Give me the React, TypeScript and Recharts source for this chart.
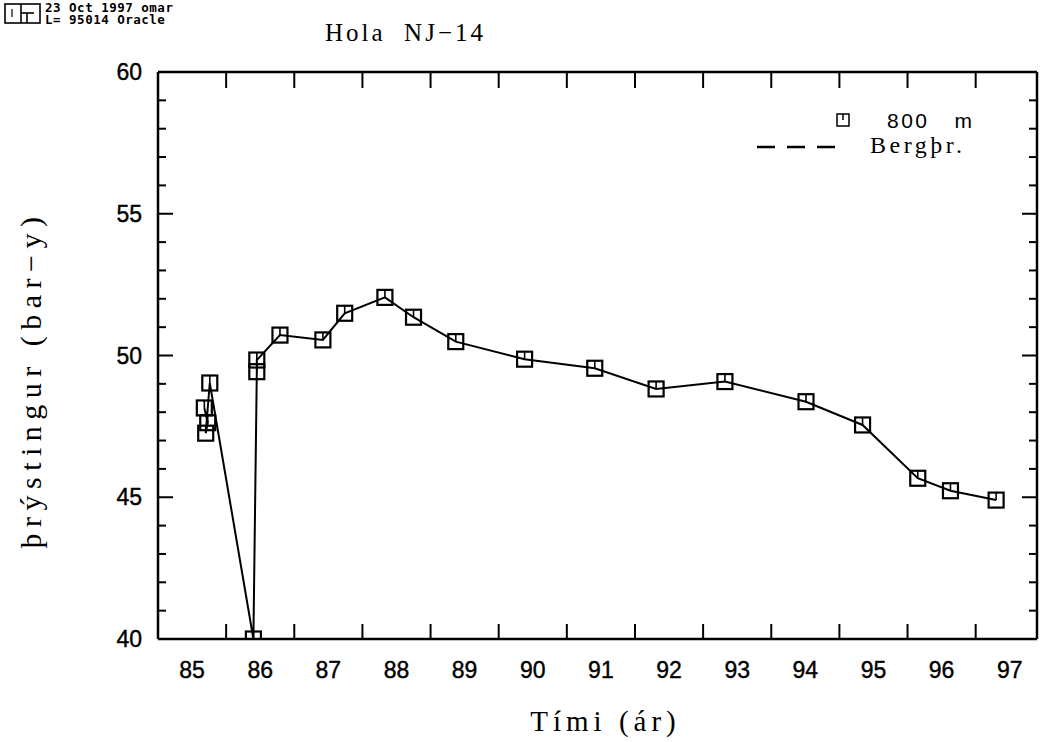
import React from "react";
import { LineChart, Line, XAxis, YAxis, Legend } from "recharts";

// Hola NJ-14, þrýstingur á 800 m
const times = [85.68, 85.73, 85.7, 85.76, 86.4, 86.45, 86.45, 86.79, 87.42, 87.74, 88.33, 88.75, 89.37, 90.38, 91.41, 92.31, 93.32, 94.51, 95.34, 96.15, 96.63, 97.3];
const pressure = [48.15, 47.63, 47.26, 49.03, 40.0, 49.43, 49.84, 50.72, 50.55, 51.49, 52.05, 51.35, 50.49, 49.87, 49.55, 48.82, 49.08, 48.37, 47.55, 45.67, 45.23, 44.9];

const yearLabels = ["85", "86", "87", "88", "89", "90", "91", "92", "93", "94", "95", "96", "97"];
const yearTicks = [86, 87, 88, 89, 90, 91, 92, 93, 94, 95, 96, 97];
const yTicks = [40, 41, 42, 43, 44, 45, 46, 47, 48, 49, 50, 51, 52, 53, 54, 55, 56, 57, 58, 59, 60];
const yLabels = [40, 45, 50, 55, 60];

const legendItems = [
  { name: "800 m", kind: "marker" },
  { name: "Bergþr.", kind: "dash" },
];

const data = times.map((t, i) => ({ t, p: pressure[i] }));
// labels sit in the middle of each year
const labelPos = yearLabels.map((l) => Number(l) + 0.5);
const bottomTicks = [...yearTicks, ...labelPos].sort((a, b) => a - b);

const sans = "'Liberation Sans', Arial, sans-serif";
const serif = "'Liberation Serif', 'Times New Roman', serif";

const BottomTick = (props: any) => {
  const { x, y, payload } = props;
  const v = payload.value;
  if (Number.isInteger(v)) {
    return <line x1={x} x2={x} y1={y} y2={y - 15} stroke="#000" strokeWidth={2} />;
  }
  return (
    <text x={x} y={y + 39} textAnchor="middle" fontFamily={sans} fontSize={23} fill="#000" stroke="#000" strokeWidth={0.4}>
      {Math.floor(v)}
    </text>
  );
};

const TopTick = (props: any) => {
  const { x, y } = props;
  return <line x1={x} x2={x} y1={y} y2={y + 16} stroke="#000" strokeWidth={2} />;
};

const LeftTick = (props: any) => {
  const { x, y, payload } = props;
  const major = yLabels.includes(payload.value);
  return (
    <g>
      <line x1={x} x2={x + (major ? 15 : 8)} y1={y} y2={y} stroke="#000" strokeWidth={2} />
      {major && (
        <text x={x - 16} y={y} textAnchor="end" dominantBaseline="central" fontFamily={sans} fontSize={23} fill="#000" stroke="#000" strokeWidth={0.4}>
          {payload.value}
        </text>
      )}
    </g>
  );
};

const RightTick = (props: any) => {
  const { x, y, payload } = props;
  const major = yLabels.includes(payload.value);
  return <line x1={x} x2={x - (major ? 15 : 8)} y1={y} y2={y} stroke="#000" strokeWidth={2} />;
};

const SquareDot = (props: any) => {
  const { cx, cy } = props;
  if (cx == null || cy == null) return null;
  return (
    <g>
      <rect x={cx - 7.5} y={cy - 7.5} width={15} height={15} fill="none" stroke="#000" strokeWidth={2.2} />
      <line x1={cx} x2={cx} y1={cy - 7.5} y2={cy} stroke="#000" strokeWidth={1.6} />
    </g>
  );
};

const LegendBox = () => (
  <svg width={240} height={56}>
    {legendItems.map((item) =>
      item.kind === "marker" ? (
        <g key={item.name}>
          <rect x={87} y={9} width={12} height={12} fill="none" stroke="#000" strokeWidth={1.5} />
          <line x1={93} x2={93} y1={9} y2={15} stroke="#000" strokeWidth={1.5} />
          <text x={137} y={23} fontFamily={sans} fontSize={21} letterSpacing={2.5} fill="#000">
            {item.name.replace(" ", "\u00a0\u00a0\u00a0")}
          </text>
        </g>
      ) : (
        <g key={item.name}>
          <line x1={7} x2={85} y1={42} y2={42} stroke="#000" strokeWidth={2.5} strokeDasharray="18 12" />
          <text x={120} y={48} fontFamily={serif} fontSize={24} letterSpacing={3.5} fill="#000">
            {item.name}
          </text>
        </g>
      )
    )}
  </svg>
);

const Logo = () => (
  <svg width={40} height={24} style={{ position: "absolute", left: 3, top: 2 }}>
    <rect x={2} y={2} width={35} height={19} fill="none" stroke="#000" strokeWidth={1.6} />
    <line x1={18} x2={18} y1={2} y2={21} stroke="#000" strokeWidth={1.6} />
    <line x1={9} x2={9} y1={7} y2={15} stroke="#000" strokeWidth={1.2} />
    <line x1={18} x2={31} y1={11} y2={11} stroke="#000" strokeWidth={1.6} />
    <line x1={24} x2={24} y1={11} y2={21} stroke="#000" strokeWidth={1.6} />
  </svg>
);

export default function App() {
  return (
    <div style={{ position: "absolute", left: 0, top: 0, width: 1040, height: 742, background: "#fff" }}>
      <Logo />
      <div style={{ position: "absolute", left: 45, top: 2, fontFamily: "'DejaVu Sans Mono', monospace", fontWeight: "bold", fontSize: 12.5, letterSpacing: 0.5, lineHeight: "11.5px", whiteSpace: "pre" }}>
        {"23 Oct 1997 omar\nL= 95014 Oracle"}
      </div>
      <div style={{ position: "absolute", left: 325, top: 19, fontFamily: serif, fontSize: 25, letterSpacing: 3, whiteSpace: "pre" }}>
        {"Hola  NJ\u221214"}
      </div>
      <LineChart width={1040} height={742} data={data} margin={{ top: 42, right: 0, left: 0, bottom: 0 }}>
        <XAxis
          xAxisId="top"
          orientation="top"
          type="number"
          dataKey="t"
          domain={[85, 97.9]}
          allowDataOverflow
          ticks={yearTicks}
          interval={0}
          height={30}
          tickSize={0}
          tickMargin={0}
          tick={<TopTick />}
          axisLine={{ stroke: "#000", strokeWidth: 2.5 }}
          tickLine={false}
        />
        <XAxis
          xAxisId="x"
          type="number"
          dataKey="t"
          domain={[85, 97.9]}
          allowDataOverflow
          ticks={bottomTicks}
          interval={0}
          height={103}
          tickSize={0}
          tickMargin={0}
          tick={<BottomTick />}
          axisLine={{ stroke: "#000", strokeWidth: 2.5 }}
          tickLine={false}
          label={{
            content: (p: any) => (
              <text x={p.viewBox.x + p.viewBox.width / 2 + 8} y={p.viewBox.y + 92} textAnchor="middle" fontFamily={serif} fontSize={29} letterSpacing={5} fill="#000">
                Tími (ár)
              </text>
            ),
          }}
        />
        <YAxis
          yAxisId="y"
          type="number"
          domain={[40, 60]}
          allowDataOverflow
          ticks={yTicks}
          interval={0}
          width={158}
          tickSize={0}
          tickMargin={0}
          tick={<LeftTick />}
          axisLine={{ stroke: "#000", strokeWidth: 2.5 }}
          tickLine={false}
          label={{
            content: (p: any) => {
              const cx = p.viewBox.x + 30;
              const cy = p.viewBox.y + p.viewBox.height / 2 + 24;
              return (
                <text x={cx} y={cy} transform={`rotate(-90 ${cx} ${cy})`} textAnchor="middle" dominantBaseline="central" fontFamily={serif} fontSize={30} letterSpacing={6.5} fill="#000">
                  þrýstingur (bar−y)
                </text>
              );
            },
          }}
        />
        <YAxis
          yAxisId="r"
          orientation="right"
          type="number"
          domain={[40, 60]}
          allowDataOverflow
          ticks={yTicks}
          interval={0}
          width={3}
          tickSize={0}
          tickMargin={0}
          tick={<RightTick />}
          axisLine={{ stroke: "#000", strokeWidth: 2.5 }}
          tickLine={false}
        />
        <Legend
          layout="horizontal"
          verticalAlign="middle"
          align="center"
          wrapperStyle={{ top: 105, left: 750, width: 240, height: 56 }}
          content={() => <LegendBox />}
        />
        <Line
          xAxisId="x"
          yAxisId="y"
          type="linear"
          dataKey="p"
          stroke="#000"
          strokeWidth={2}
          dot={<SquareDot />}
          activeDot={false}
          isAnimationActive={false}
        />
      </LineChart>
    </div>
  );
}
